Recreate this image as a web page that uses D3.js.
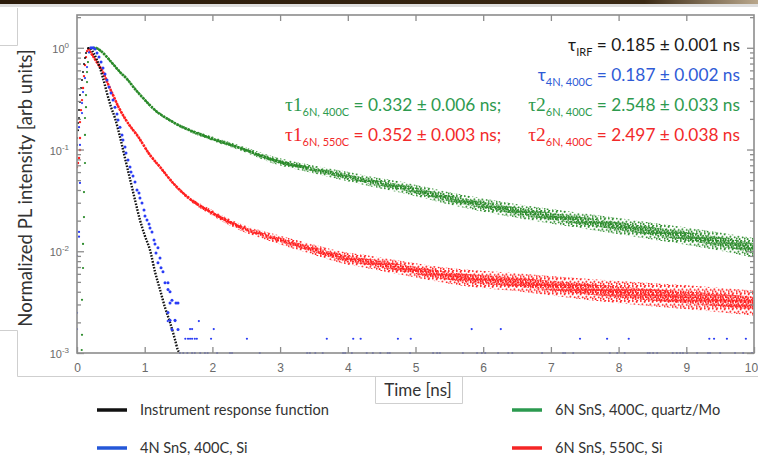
<!DOCTYPE html>
<html>
<head>
<meta charset="utf-8">
<title>PL decay</title>
<style>
  body { margin: 0; background: #fff; }
  text { font-family: 'Lato', 'Open Sans', sans-serif; }
  .tick text, .tlab { font-family: 'Liberation Sans', Arial, sans-serif; fill: #6a6a6a; }
</style>
<script src="https://d3js.org/d3.v7.min.js"></script>
</head>
<body>
<div id="chart"></div>
<script>
// ---- data: [time ns, normalized intensity] ----
var irfRise = [[0,0.111],[0,0.130],[0.015,0.155],[0.015,0.182],[0.03,0.204],[0.03,0.244],[0.044,0.293],[0.044,0.343],
  [0.059,0.402],[0.074,0.482],[0.089,0.577],[0.103,0.692],[0.118,0.792],[0.133,0.887],[0.162,0.99]];
var irfDecay = [[0.162,0.99],[0.192,1.0],[0.236,0.907],[0.295,0.757],[0.34,0.632],[0.384,0.504],[0.443,0.359],[0.502,0.262],
  [0.561,0.204],[0.635,0.133],[0.709,0.0825],[0.783,0.0513],[0.857,0.0319],[0.93,0.0203],[1.004,0.0141],[1.078,0.0103],
  [1.152,0.0063],[1.226,0.0042],[1.30,0.0028],[1.374,0.0020],[1.448,0.00135],[1.49,0.00107],[1.52,0.001]];

var blueRise = [[0,0.00172],[0,0.00248],[0,0.009],[0.03,0.0139],[0.03,0.0155],[0.044,0.047],[0.044,0.111],[0.03,0.166],
  [0.074,0.228],[0.074,0.286],[0.089,0.367],[0.118,0.504],[0.148,0.646],[0.177,0.9]];
var blueDecay = [[0.207,1.0],[0.236,1.0],[0.266,0.971],[0.295,0.887],[0.325,0.81],[0.355,0.724],[0.384,0.632],[0.414,0.552],
  [0.443,0.482],[0.473,0.411],[0.502,0.359],[0.532,0.306],[0.561,0.261],[0.591,0.223],[0.606,0.195],[0.635,0.166],
  [0.665,0.139],[0.679,0.124],[0.709,0.106],[0.724,0.0924],[0.753,0.0788],[0.783,0.0673],[0.798,0.0601],[0.827,0.0549],
  [0.857,0.048],[0.886,0.040],[0.916,0.0374],[0.930,0.0334],[0.960,0.0298],[0.990,0.0255],[1.004,0.0222],[1.034,0.0203],
  [1.064,0.0185],[1.078,0.0169],[1.108,0.0155],[1.137,0.0129],[1.152,0.0118],[1.167,0.0096],[1.196,0.0108],[1.196,0.0077],
  [1.226,0.0086],[1.241,0.0069],[1.270,0.0063],[1.300,0.0049],[1.344,0.0049],[1.344,0.0042],[1.374,0.0040],[1.374,0.0031],
  [1.403,0.0033],[1.462,0.0031],[1.492,0.0031],[1.344,0.0025],[1.374,0.0021],[1.448,0.0021],[1.403,0.0017],[1.492,0.0017]];
// blue tail: single-count levels and the times where they appear
var tailLevels = [0.00100, 0.00138, 0.00172, 0.00206];
var blueTailTimes = [
  [1.52,1.57,1.63,1.70,1.74,1.82,1.89,1.93,2.07,2.26,2.29,2.70,3.40,3.44,3.52,3.63,3.93,3.96,4.06,4.28,4.37,4.48,4.59,4.62,
   4.92,5.26,5.32,5.36,5.70,5.91,5.98,6.03,6.22,6.37,6.43,6.87,7.18,7.21,7.33,7.87,7.98,8.09,8.43,8.46,8.51,8.57,8.80,8.86,
   8.91,8.95,9.01,9.16,9.32,9.35,9.50,9.72,9.84,9.97],
  [1.60,1.64,1.67,1.70,1.74,1.77,1.98,2.51,3.69,4.08,4.19,4.74,4.93,7.43,7.83,8.15,9.34,9.41,9.60,9.88],
  [1.67,1.70,2.02,5.83,6.26],
  [1.34,1.45,1.80]
];

var greenRise = [[0.07,0.00107],[0.074,0.00151],[0.074,0.00333],[0.089,0.00685],[0.089,0.0118],[0.103,0.0217],[0.103,0.0382],
  [0.118,0.0737],[0.118,0.139],[0.118,0.204],[0.133,0.261],[0.133,0.343],[0.148,0.46],[0.148,0.577],[0.162,0.724],[0.192,0.907]];
var greenT = [0.236,0.266,0.355,0.443,0.532,0.635,0.739,0.857,0.975,1.152,1.418,1.92,2.41,2.90,3.40,3.88,4.37,4.77,5.61,6.59,7.58,8.57,9.54,9.99];
var greenV = [0.99,1.0,0.928,0.81,0.692,0.577,0.493,0.393,0.321,0.244,0.186,0.133,0.1035,0.0789,0.0658,0.0562,0.048,0.0428,0.0319,0.0243,0.0194,0.0155,0.0123,0.0108];
var greenSpread = [1.03,1.03,1.03,1.03,1.03,1.03,1.03,1.03,1.03,1.03,1.03,1.05,1.06,1.08,1.09,1.11,1.12,1.13,1.15,1.17,1.19,1.21,1.23,1.25];

var redRise = [[0,0.0673],[0.015,0.0737],[0.03,0.0825],[0.044,0.0989],[0.044,0.130],[0.044,0.186],[0.059,0.244],[0.074,0.306],
  [0.089,0.402],[0.103,0.527],[0.118,0.676],[0.133,0.81],[0.148,0.928]];
var redT = [0.162,0.236,0.31,0.384,0.458,0.532,0.606,0.679,0.783,0.886,1.078,1.226,1.418,1.669,1.92,2.41,2.90,3.40,3.88,4.37,4.77,5.61,6.59,7.58,8.57,9.54,9.99];
var redV = [0.99,0.829,0.692,0.577,0.44,0.343,0.2675,0.218,0.170,0.1388,0.0883,0.0673,0.0469,0.0326,0.0255,0.0173,0.0135,0.0108,0.0088,0.0077,0.0069,0.0056,0.0049,0.0042,0.0037,0.0033,0.0031];
var redSpread = [1.03,1.03,1.03,1.03,1.03,1.03,1.03,1.03,1.03,1.03,1.03,1.03,1.03,1.05,1.06,1.08,1.10,1.12,1.14,1.16,1.17,1.20,1.23,1.27,1.30,1.32,1.33];

var xTicks = [0,1,2,3,4,5,6,7,8,9,10];
var yMajor = [1e-3, 1e-2, 1e-1, 1];
var yExp = ["-3", "-2", "-1", "0"];
var seriesNames = ["Instrument response function", "4N SnS, 400C, Si", "6N SnS, 400C, quartz/Mo", "6N SnS, 550C, Si"];
var seriesColors = ["#111111", "#2a3cf5", "#2a8a2a", "#ff1f1f"];
var legendColors = ["#111111", "#2457d8", "#2b9a4f", "#f52525"];

// ---- drawing ----
var W = 758, H = 457;
var svg = d3.select("#chart").append("svg").attr("width", W).attr("height", H);

var x = d3.scaleLinear().domain([0, 10]).range([77, 754]);
var y = d3.scaleLog().domain([1e-3, 2.1]).range([353, 15]);

var defs = svg.append("defs");
var topGrad = defs.append("linearGradient").attr("id", "topbar");
topGrad.append("stop").attr("offset", "0%").attr("stop-color", "#2b1b0b");
topGrad.append("stop").attr("offset", "85%").attr("stop-color", "#3a2914");
topGrad.append("stop").attr("offset", "100%").attr("stop-color", "#b9a78c");

defs.append("clipPath").attr("id", "plotclip").append("rect")
  .attr("x", 77).attr("y", 15).attr("width", 677).attr("height", 340);

// speckle tiles for the noisy decay bands
var speckOuter = [[0.8,1.0],[4.6,1.8],[2.4,4.3],[6.7,4.9],[0.6,6.2],[5.3,0.3],[3.6,6.6]];
var speckInner = [[0.7,0.8],[3.1,1.6],[1.6,3.3],[4.2,3.9],[0.4,4.6],[2.8,4.9]];
function speckle(id, color, w, h, dots, r) {
  var p = defs.append("pattern").attr("id", id).attr("patternUnits", "userSpaceOnUse")
    .attr("width", w).attr("height", h);
  dots.forEach(function (d) {
    p.append("circle").attr("cx", d[0]).attr("cy", d[1]).attr("r", r).attr("fill", color);
  });
}
speckle("gOuter", seriesColors[2], 8, 7.5, speckOuter, 1.0);
speckle("gInner", seriesColors[2], 5, 5.2, speckInner, 1.0);
speckle("rOuter", seriesColors[3], 8, 7.5, speckOuter, 1.0);
speckle("rInner", seriesColors[3], 5, 5.2, speckInner, 1.0);

// window decoration bits
svg.append("rect").attr("x", 0).attr("y", 0).attr("width", W).attr("height", 4).attr("fill", "url(#topbar)");
svg.append("rect").attr("x", 0).attr("y", 4).attr("width", W).attr("height", 3).attr("fill", "#dedede");
var frame = svg.append("g").attr("stroke", "#cfcfcf").attr("fill", "none").attr("stroke-width", 1);
frame.append("path").attr("d", "M0,45.5H17.5V8");
frame.append("path").attr("d", "M0,330.5H17.5V376.5H758");
frame.append("path").attr("d", "M375.5,376.5V403.5H462.5V376.5");

var plot = svg.append("g").attr("clip-path", "url(#plotclip)");

function drawBand(T, V, S, color, outerId, innerId) {
  var pts = T.map(function (t, i) { return {t: t, v: V[i], s: S[i]}; });
  var outer = d3.area().curve(d3.curveMonotoneX)
    .x(function (d) { return x(d.t); })
    .y0(function (d) { return y(d.v / d.s); })
    .y1(function (d) { return y(d.v * d.s); });
  var inner = d3.area().curve(d3.curveMonotoneX)
    .x(function (d) { return x(d.t); })
    .y0(function (d) { return y(d.v / Math.sqrt(d.s)); })
    .y1(function (d) { return y(d.v * Math.sqrt(d.s)); });
  plot.append("path").datum(pts).attr("d", outer).attr("fill", "url(#" + outerId + ")");
  plot.append("path").datum(pts).attr("d", inner).attr("fill", "url(#" + innerId + ")");
  // dense core where the counts are high
  var core = pts.filter(function (d) { return d.s < 1.1; });
  plot.append("path").datum(core)
    .attr("d", d3.line().curve(d3.curveMonotoneX).x(function (d) { return x(d.t); }).y(function (d) { return y(d.v); }))
    .attr("fill", "none").attr("stroke", color).attr("stroke-width", 2.6).attr("stroke-dasharray", "2.2 0.9");
  plot.append("path").datum(pts)
    .attr("d", d3.line().curve(d3.curveMonotoneX).x(function (d) { return x(d.t); }).y(function (d) { return y(d.v); }))
    .attr("fill", "none").attr("stroke", color).attr("stroke-width", 1.6).attr("stroke-dasharray", "1.6 2.4");
}

function drawDots(data, color, r) {
  plot.append("g").selectAll("circle").data(data).join("circle")
    .attr("cx", function (d) { return x(d[0]); })
    .attr("cy", function (d) { return y(d[1]); })
    .attr("r", r).attr("fill", color);
}

drawBand(greenT, greenV, greenSpread, seriesColors[2], "gOuter", "gInner");
drawDots(greenRise, seriesColors[2], 1.1);
drawBand(redT, redV, redSpread, seriesColors[3], "rOuter", "rInner");
drawDots(redRise, seriesColors[3], 1.2);

plot.append("path").datum(irfDecay)
  .attr("d", d3.line().curve(d3.curveMonotoneX).x(function (d) { return x(d[0]); }).y(function (d) { return y(d[1]); }))
  .attr("fill", "none").attr("stroke", seriesColors[0]).attr("stroke-width", 2.4).attr("stroke-dasharray", "1.6 1.4");
drawDots(irfRise, seriesColors[0], 1.0);

drawDots(blueRise, seriesColors[1], 1.1);
drawDots(blueDecay, seriesColors[1], 1.5);
tailLevels.forEach(function (lv, i) {
  drawDots(blueTailTimes[i].map(function (t) { return [t, lv]; }), seriesColors[1], 1.1);
});

// axes
var axisColor = "#8c8c8c";
var gx = svg.append("g").attr("transform", "translate(0,353)")
  .call(d3.axisBottom(x).tickValues(xTicks).tickSize(-6).tickPadding(10).tickFormat(d3.format("d")));
svg.append("g").attr("transform", "translate(0,15)")
  .call(d3.axisTop(x).tickValues(xTicks.slice(1, 10)).tickSize(-6).tickFormat(""));

var yMinor = [];
yMajor.slice(0, 3).forEach(function (b) { for (var k = 2; k <= 9; k++) yMinor.push(b * k); });
yMinor.push(2);
svg.append("g").attr("transform", "translate(77,0)")
  .call(d3.axisLeft(y).tickValues(yMinor).tickSize(-4).tickFormat(""));
svg.append("g").attr("transform", "translate(77,0)")
  .call(d3.axisLeft(y).tickValues(yMajor).tickSize(-7).tickFormat(""));
svg.append("g").attr("transform", "translate(754,0)")
  .call(d3.axisRight(y).tickValues(yMinor).tickSize(-4).tickFormat(""));
svg.append("g").attr("transform", "translate(754,0)")
  .call(d3.axisRight(y).tickValues(yMajor).tickSize(-7).tickFormat(""));

svg.selectAll(".domain").remove();
svg.selectAll(".tick line").attr("stroke", axisColor).attr("stroke-width", 1.3);
gx.selectAll(".tick text").attr("font-size", 12)
  .attr("dx", function (d) { return d === 10 ? -3 : 0; });

svg.append("rect").attr("x", 77).attr("y", 15).attr("width", 677).attr("height", 338)
  .attr("fill", "none").attr("stroke", axisColor).attr("stroke-width", 1.6);

yMajor.forEach(function (v, i) {
  var t = svg.append("text").attr("class", "tlab").attr("x", 69).attr("y", y(v) + 5)
    .attr("text-anchor", "end").attr("font-size", 11);
  t.append("tspan").text("10");
  t.append("tspan").attr("dy", -5).attr("font-size", 8).text(yExp[i]);
});

svg.append("text").attr("transform", "translate(32,188) rotate(-90)")
  .attr("text-anchor", "middle").attr("font-size", 18.5).attr("fill", "#333")
  .text("Normalized PL intensity [arb units]");
svg.append("text").attr("x", 418).attr("y", 396).attr("text-anchor", "middle")
  .attr("font-size", 17).attr("fill", "#333").text("Time [ns]");

// legend: two columns, two rows
seriesNames.forEach(function (name, i) {
  var col = i < 2 ? 0 : 1;
  var row = i % 2;
  var lx = col === 0 ? 97 : 512;
  var ly = row === 0 ? 410 : 448;
  svg.append("line").attr("x1", lx).attr("x2", lx + 30).attr("y1", ly).attr("y2", ly)
    .attr("stroke", legendColors[i]).attr("stroke-width", 3.5);
  svg.append("text").attr("x", lx + 43).attr("y", ly + 5).attr("font-size", 14.6)
    .attr("fill", "#333").text(name);
});

// fit results
function fitText(xp, yp, anchor, color, parts) {
  var t = svg.append("text").attr("x", xp).attr("y", yp).attr("text-anchor", anchor)
    .attr("font-size", 17.3).attr("fill", color);
  var shift = 0;
  parts.forEach(function (p) {
    var s = t.append("tspan").text(p.t);
    var want = p.sub ? 5 : 0;
    if (want !== shift) { s.attr("dy", want - shift); shift = want; }
    if (p.sub) s.attr("font-size", 11);
    if (p.serif) s.attr("font-family", "'Liberation Serif', serif").attr("font-size", 19.5);
  });
}
fitText(740, 51, "end", "#1a1a1a", [{t: "τ"}, {t: "IRF", sub: true}, {t: " = 0.185 ± 0.001 ns"}]);
fitText(740, 81, "end", "#2f5bd6", [{t: "τ"}, {t: "4N, 400C", sub: true}, {t: " = 0.187 ± 0.002 ns"}]);
fitText(285, 111, "start", "#2e9a4e", [{t: "τ1", serif: true}, {t: "6N, 400C", sub: true}, {t: " = 0.332 ± 0.006 ns;"}]);
fitText(740, 111, "end", "#2e9a4e", [{t: "τ2", serif: true}, {t: "6N, 400C", sub: true}, {t: " = 2.548 ± 0.033 ns"}]);
fitText(285, 141, "start", "#f22a2a", [{t: "τ1", serif: true}, {t: "6N, 550C", sub: true}, {t: " = 0.352 ± 0.003 ns;"}]);
fitText(740, 141, "end", "#f22a2a", [{t: "τ2", serif: true}, {t: "6N, 400C", sub: true}, {t: " = 2.497 ± 0.038 ns"}]);
</script>
</body>
</html>
